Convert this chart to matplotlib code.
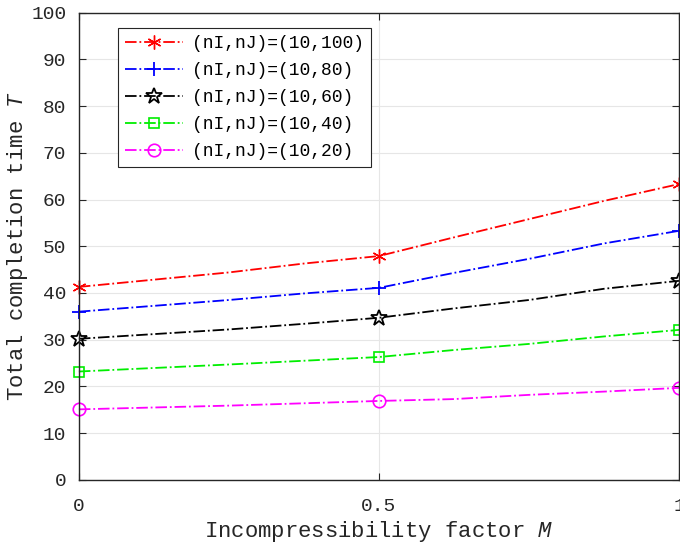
import matplotlib
matplotlib.use("Agg")
import matplotlib.pyplot as plt

plt.rcParams['font.family'] = ['Liberation Mono', 'DejaVu Sans Mono']
plt.rcParams['mathtext.fontset'] = 'custom'
plt.rcParams['mathtext.it'] = 'Liberation Mono:italic'
plt.rcParams['mathtext.rm'] = 'Liberation Mono'

# incompressibility factor M
m = [0, 0.25, 0.375, 0.5, 0.625, 0.75, 0.875, 1]
t_100 = [41.3, 44.4, 46.3, 47.9, 51.9, 55.8, 59.7, 63.3]
t_80 = [36.0, 38.5, 39.9, 41.1, 44.3, 47.3, 50.6, 53.3]
t_60 = [30.2, 32.2, 33.4, 34.7, 36.7, 38.5, 40.9, 42.6]
t_40 = [23.2, 24.7, 25.5, 26.3, 27.8, 29.1, 30.7, 32.1]
t_20 = [15.1, 15.9, 16.4, 16.9, 17.3, 18.2, 18.9, 19.7]
labels = ['(nI,nJ)=(10,100)', '(nI,nJ)=(10,80)', '(nI,nJ)=(10,60)',
          '(nI,nJ)=(10,40)', '(nI,nJ)=(10,20)']
marker_idx = [0, 3, 7]

fig = plt.figure(figsize=(6.8, 5.46), dpi=100)
ax = fig.add_axes([0.116, 0.121, 0.8825, 0.856])

styles = [
    (t_100, 'red', dict(marker=(6, 2, 0), markersize=10)),
    (t_80, 'blue', dict(marker='+', markersize=10, markeredgewidth=1.3)),
    (t_60, 'black', dict(marker='*', markersize=12, markerfacecolor='none', markeredgewidth=1.3)),
    (t_40, '#00ee00', dict(marker='s', markersize=7, markerfacecolor='none', markeredgewidth=1.2)),
    (t_20, 'magenta', dict(marker='o', markersize=9, markerfacecolor='none', markeredgewidth=1.2)),
]
for (vals, col, mk), lab in zip(styles, labels):
    ax.plot(m, vals, linestyle='-.', color=col, linewidth=1.3,
            markevery=marker_idx, label=lab, clip_on=False, **mk)

ax.set_xlim(0, 1)
ax.set_ylim(0, 100)
ax.set_xticks([0, 0.5, 1])
ax.set_xticklabels(['0', '0.5', '1'])
ax.set_yticks(range(0, 101, 10))
ax.grid(True, color='#e6e6e6', linewidth=0.8)
ax.set_axisbelow(True)
ax.tick_params(direction='in', top=True, right=True, length=5,
               labelsize=14, colors='#262626')
ax.tick_params(axis='x', pad=13)
ax.tick_params(axis='y', pad=9)
for s in ax.spines.values():
    s.set_color('#262626')
    s.set_linewidth(1.0)

ax.set_xlabel('Incompressibility factor $M$', fontsize=16, color='#262626', labelpad=3)
ax.set_ylabel('Total completion time $T$', fontsize=16, color='#262626', labelpad=1)

leg = ax.legend(loc='upper left', bbox_to_anchor=(0.065, 0.967), borderaxespad=0,
                fontsize=13, fancybox=False, framealpha=1, edgecolor='#262626',
                handlelength=3.2, handletextpad=0.5, labelspacing=0.55,
                borderpad=0.4)
leg.get_frame().set_linewidth(0.8)

fig.savefig('out.png', dpi=100)
